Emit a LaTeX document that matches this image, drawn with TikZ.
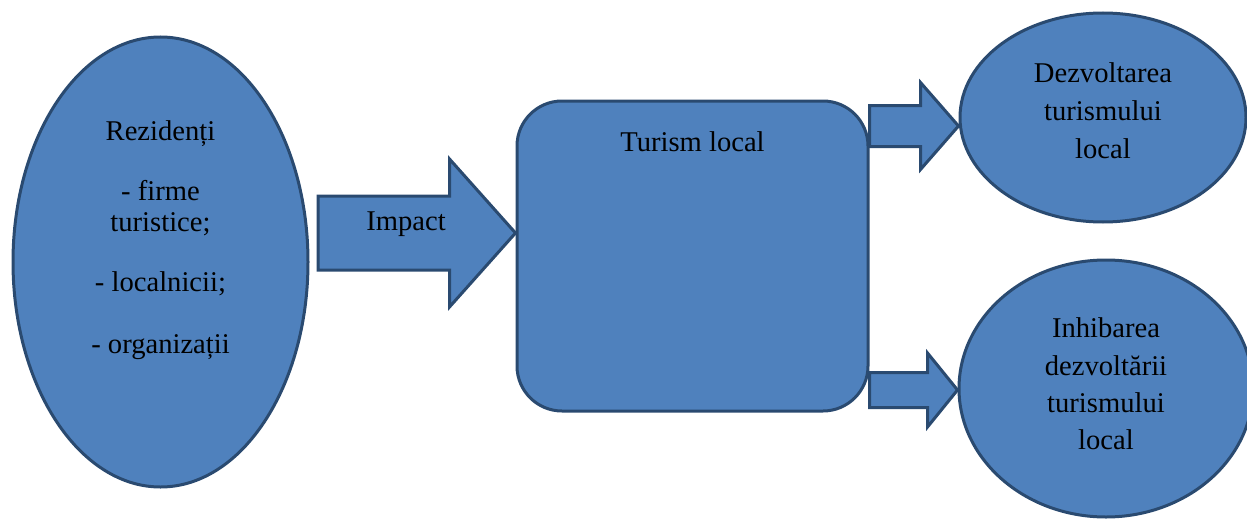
\documentclass[tikz,border=0pt]{standalone}
\usepackage{fontspec}
\setmainfont{LiberationSerif}[Extension=.ttf,UprightFont=*-Regular,BoldFont=*-Bold]
\usetikzlibrary{shapes.geometric,calc}
\definecolor{shapefill}{HTML}{4F81BD}
\definecolor{shapeline}{HTML}{2A4A70}
\newcommand\blockarr[5]{% start, tip, shaft half, head half, head length
  \draw[blockarrow] ($(#1)+(0,-#3)$) -- ($(#2)+(-#5,-#3)$) -- ($(#2)+(-#5,-#4)$) -- (#2)
    -- ($(#2)+(-#5,#4)$) -- ($(#2)+(-#5,#3)$) -- ($(#1)+(0,#3)$) -- cycle;}
\begin{document}
\begin{tikzpicture}[x=1pt,y=-1pt,
  shapestyle/.style={fill=shapefill,draw=shapeline,line width=3pt},
  ell/.style={shapestyle,ellipse,inner sep=0pt},
  txt/.style={font=\rmfamily\fontsize{28.6}{38}\selectfont,align=center,text=black,inner sep=0pt},
  blockarrow/.style={shapestyle,line join=miter}]
\useasboundingbox (0,0) rectangle (1247,519);
% shapes
\node[ell,minimum width=295pt,minimum height=450pt] (rez) at (160.5,262) {};
\node[shapestyle,rectangle,rounded corners=45pt,minimum width=351pt,minimum height=310pt,inner sep=0pt] (tur) at (692.5,256) {};
\node[ell,minimum width=286pt,minimum height=209pt] (dez) at (1103,117.5) {};
\node[ell,minimum width=294pt,minimum height=257pt] (inh) at (1106,388.5) {};
% texts
\node[txt,font=\rmfamily\fontsize{28.6}{31}\selectfont] (rez-t) at ([yshift=22pt]rez.center)
  {Rezidenți\\[29pt] - firme\\ turistice;\\[29pt] - localnicii;\\[31pt] - organizații};
\node[txt] (tur-t) at ([yshift=-42.5pt]tur.north) {Turism local};
\node[txt] (dez-t) at ([yshift=6.5pt]dez.center) {Dezvoltarea\\ turismului\\ local};
\node[txt,font=\rmfamily\fontsize{28.6}{37.4}\selectfont] (inh-t) at ([yshift=4.5pt]inh.center)
  {Inhibarea\\ dezvoltării\\ turismului\\ local};
% block arrows
\coordinate (impS) at (318,233);
\coordinate (impT) at ([yshift=23pt]tur.west);
\coordinate (upS) at ([yshift=130pt]tur.east);
\coordinate (upT) at ([yshift=-8.5pt]dez.west);
\coordinate (loS) at ([yshift=-134pt]tur.east);
\coordinate (loT) at ([yshift=-1.5pt]inh.west);
\blockarr{impS}{impT}{37}{74}{66}
\blockarr{upS}{upT}{20.5}{43.5}{38}
\blockarr{loS}{loT}{17.5}{37}{30}
\node[txt] (imp-t) at ($(impS)+(88,-8.5)$) {Impact};
\end{tikzpicture}
\end{document}
